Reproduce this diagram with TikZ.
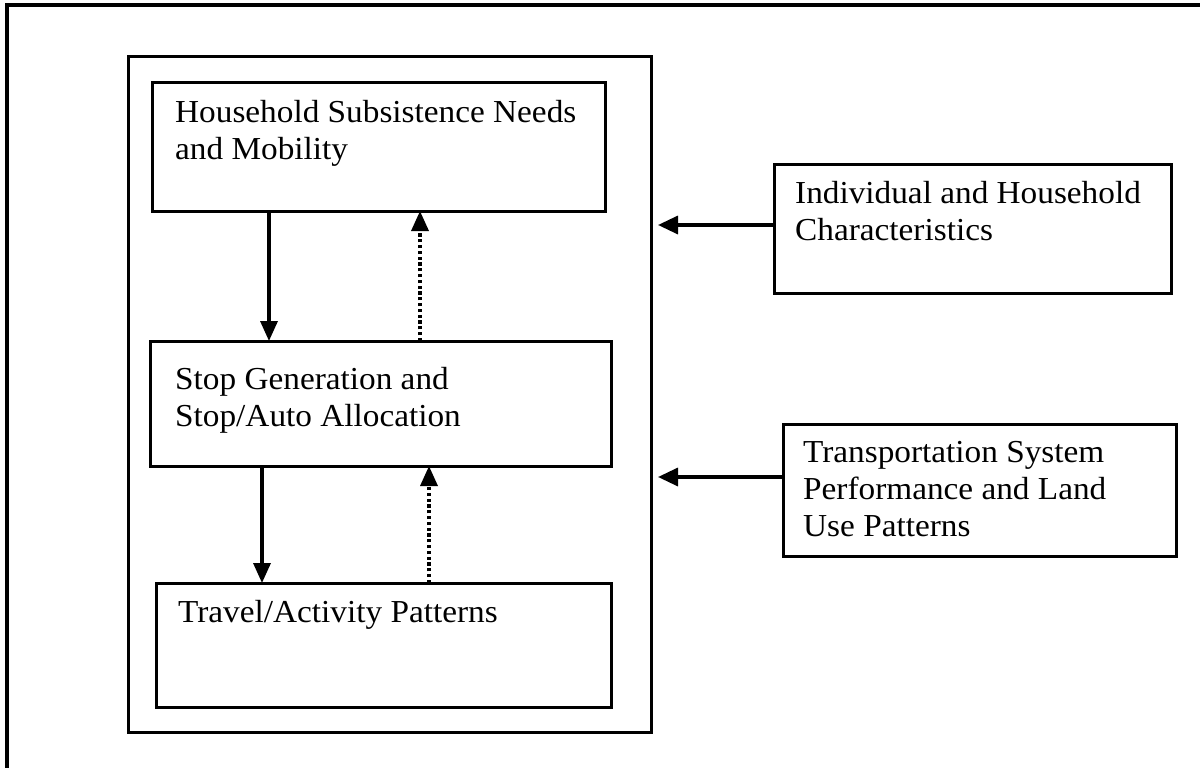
\documentclass[tikz,border=0pt]{standalone}
\usepackage{fontspec}
\setmainfont[FakeStretch=1.04]{Liberation Serif}
\usetikzlibrary{arrows.meta}

\begin{document}
\begin{tikzpicture}[x=1pt,y=-1pt,
  frame/.style={line width=3.6pt},
  box/.style={draw, line width=3pt, inner sep=0pt, outer sep=0pt},
  lbl/.style={anchor=north west, inner sep=0pt, align=left,
    font=\fontsize{32}{37}\selectfont},
  flow/.style={line width=3.4pt, -{Triangle[length=20pt,width=17pt]}},
  feedback/.style={line width=3.4pt, dash pattern=on 3.2pt off 2.6pt,
    -{Triangle[length=20pt,width=17pt]}},
  feed/.style={line width=3.4pt, -{Triangle[length=20pt,width=18pt]}, shorten >=7pt}]

\useasboundingbox (0,0) rectangle (1200,768);

% page frame (top and left edges)
\draw[frame] (1200,5) -- (7,5) -- (7,768);

% enclosing model box and its three stages
\node[box, minimum width=523pt, minimum height=675pt] (model) at (389.5,394.5) {};
\node[box, minimum width=453pt, minimum height=128pt] (needs) at (378.5,147) {};
\node[box, minimum width=461pt, minimum height=125pt] (stops) at (380.5,403.5) {};
\node[box, minimum width=455pt, minimum height=124pt] (travel) at (383.5,645) {};

% external inputs
\node[box, minimum width=397pt, minimum height=129pt] (chars) at (972.5,228.5) {};
\node[box, minimum width=393pt, minimum height=132pt] (system) at (979.5,490) {};

% labels (first baseline minus strut height)
\node[lbl] (tneeds) at (175,96.1) {\strut Household Subsistence Needs\\and Mobility};
\node[lbl] (tstops) at (175,363.1) {\strut Stop Generation and\\Stop/Auto Allocation};
\node[lbl] (ttravel) at (178,596.1) {\strut Travel/Activity Patterns};
\node[lbl] (tchars) at (795,177.1) {\strut Individual and Household\\Characteristics};
\node[lbl] (tsystem) at (803,436.1) {\strut Transportation System\\Performance and Land\\Use Patterns};

% downward flow between stages
\draw[flow] ([xshift=117pt]needs.south west) -- ([xshift=117pt]needs.south west |- stops.north);
\draw[flow] ([xshift=112pt]stops.south west) -- ([xshift=112pt]stops.south west |- travel.north);

% upward feedback between stages
\draw[feedback] ([xshift=270pt]stops.north west) -- ([xshift=270pt]stops.north west |- needs.south);
\draw[feedback] ([xshift=273pt]travel.north west) -- ([xshift=273pt]travel.north west |- stops.south);

% inputs into the model
\draw[feed] ([yshift=3.5pt]chars.west) -- ([yshift=3.5pt]chars.west -| model.east);
\draw[feed] ([yshift=13pt]system.west) -- ([yshift=13pt]system.west -| model.east);

\end{tikzpicture}
\end{document}
